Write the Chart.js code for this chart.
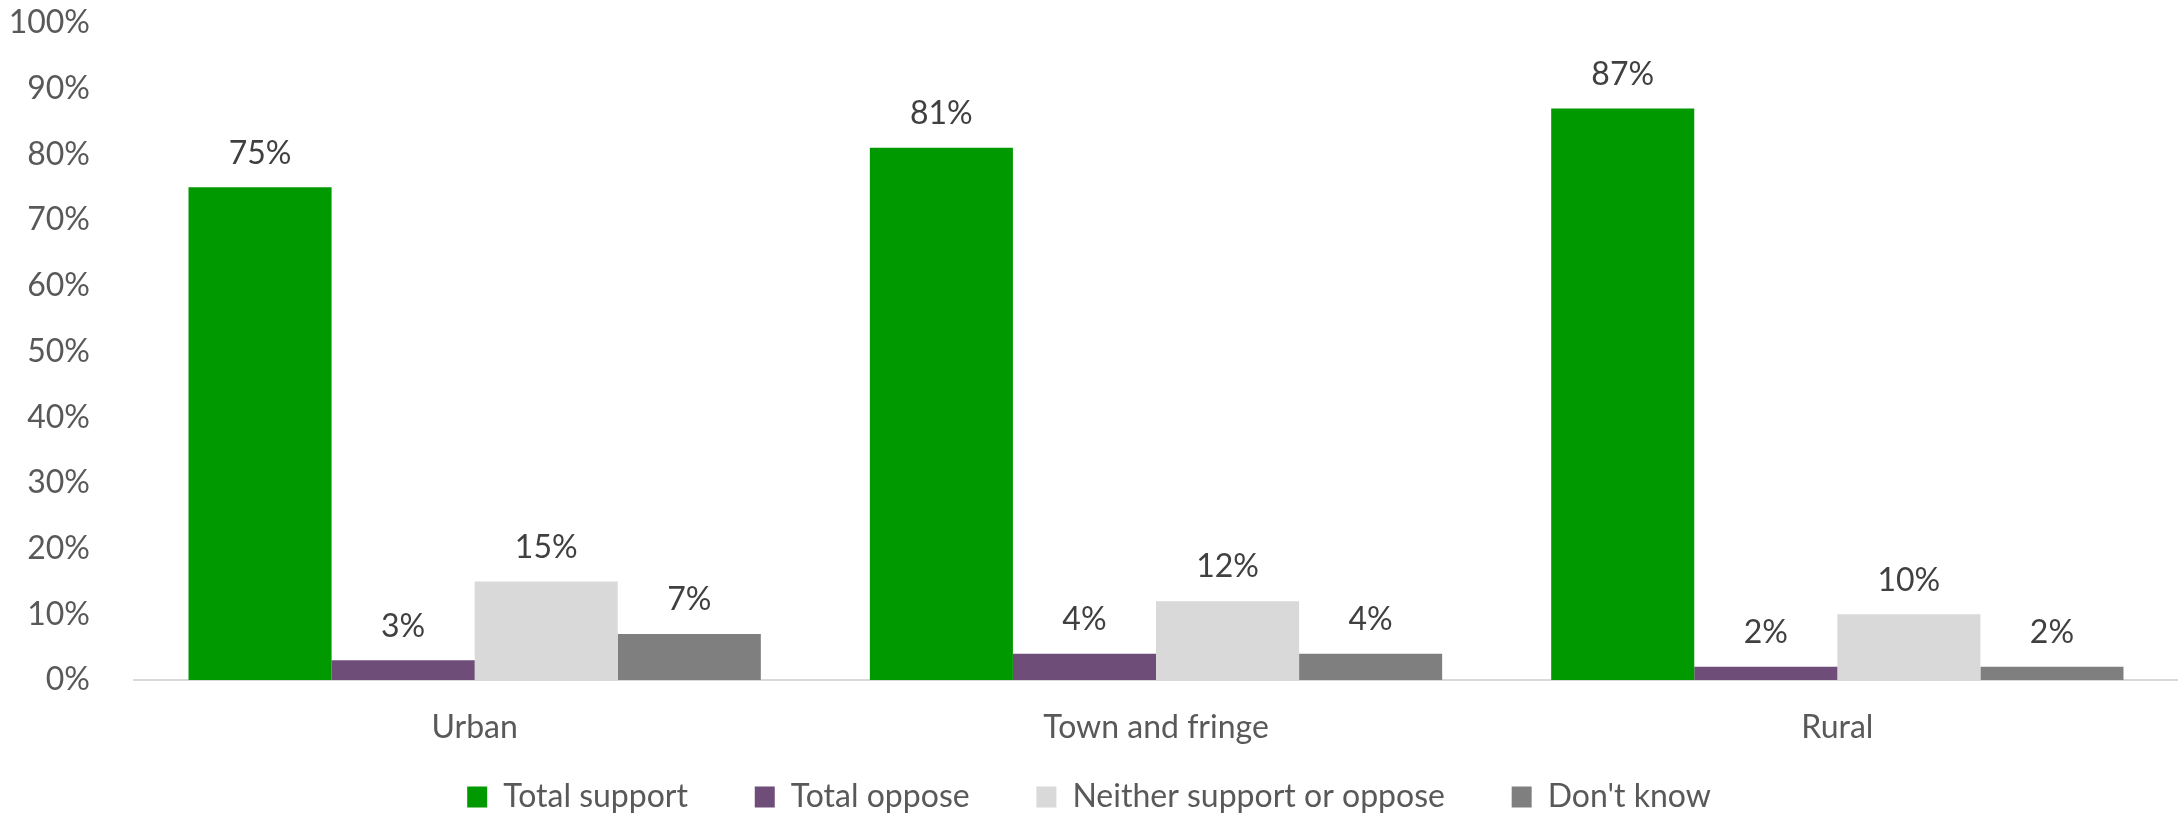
<!DOCTYPE html>
<html>
<head>
<meta charset="utf-8">
<script src="https://cdn.jsdelivr.net/npm/chart.js@4"></script>
<style>
  body { margin: 0; background: #fff; }
  #wrap { width: 2178px; height: 816px; }
</style>
</head>
<body>
<div id="wrap"><canvas id="grafico"></canvas></div>
<script>
const categorias = ['Urban', 'Town and fringe', 'Rural'];
const totalSupport = [75, 81, 87];
const totalOppose = [3, 4, 2];
const neither = [15, 12, 10];
const dontKnow = [7, 4, 2];
const yTicks = [0, 10, 20, 30, 40, 50, 60, 70, 80, 90, 100];

const fonte = 'Lato, "Open Sans", sans-serif';

// rótulos de valor acima das barras
const rotulos = {
  id: 'rotulos',
  afterDatasetsDraw(chart) {
    const ctx = chart.ctx;
    ctx.save();
    ctx.font = '32px ' + fonte;
    ctx.fillStyle = '#404040';
    ctx.textAlign = 'center';
    ctx.textBaseline = 'bottom';
    chart.data.datasets.forEach((ds, i) => {
      chart.getDatasetMeta(i).data.forEach((bar, j) => {
        ctx.fillText(ds.data[j] + '%', bar.x, bar.y - 18);
      });
    });
    ctx.restore();
  }
};

const ctx = document.getElementById('grafico').getContext('2d');
const grafico = new Chart(ctx, {
  type: 'bar',
  data: {
    labels: categorias,
    datasets: [
      { label: 'Total support', data: totalSupport, backgroundColor: '#009a00' },
      { label: 'Total oppose', data: totalOppose, backgroundColor: '#6e4e78' },
      { label: 'Neither support or oppose', data: neither, backgroundColor: '#d9d9d9' },
      { label: "Don't know", data: dontKnow, backgroundColor: '#7f7f7f' }
    ]
  },
  options: {
    responsive: true,
    maintainAspectRatio: false,
    animation: false,
    layout: { padding: { left: 0, top: 23, right: 0, bottom: -7 } },
    datasets: { bar: { categoryPercentage: 0.84, barPercentage: 1.0 } },
    plugins: {
      legend: {
        position: 'bottom',
        labels: {
          font: { family: fonte, size: 32 },
          color: '#595959',
          boxWidth: 20,
          boxHeight: 21,
          padding: 34,
          // espaço extra entre os itens da legenda
          generateLabels: (chart) => {
            const itens = Chart.defaults.plugins.legend.labels.generateLabels(chart);
            itens.forEach((it, i) => {
              if (i < itens.length - 1) it.text = it.text + '    ';
            });
            return itens;
          }
        }
      },
      tooltip: { enabled: false }
    },
    scales: {
      x: {
        grid: { display: false },
        border: { display: true, color: '#d9d9d9', width: 2 },
        ticks: { font: { family: fonte, size: 32 }, color: '#595959', padding: 20 },
        afterFit: (axis) => { axis.height = 67; }
      },
      y: {
        min: 0,
        max: 100,
        afterBuildTicks: (axis) => { axis.ticks = yTicks.map(v => ({ value: v })); },
        afterFit: (axis) => {
          axis.width = 134;
          axis.paddingTop = 0;
          axis.paddingBottom = 0;
        },
        grid: { display: false },
        border: { display: false },
        ticks: {
          font: { family: fonte, size: 32 },
          color: '#595959',
          padding: 36,
          callback: (v) => v + '%'
        }
      }
    }
  },
  plugins: [rotulos]
});
</script>
</body>
</html>
